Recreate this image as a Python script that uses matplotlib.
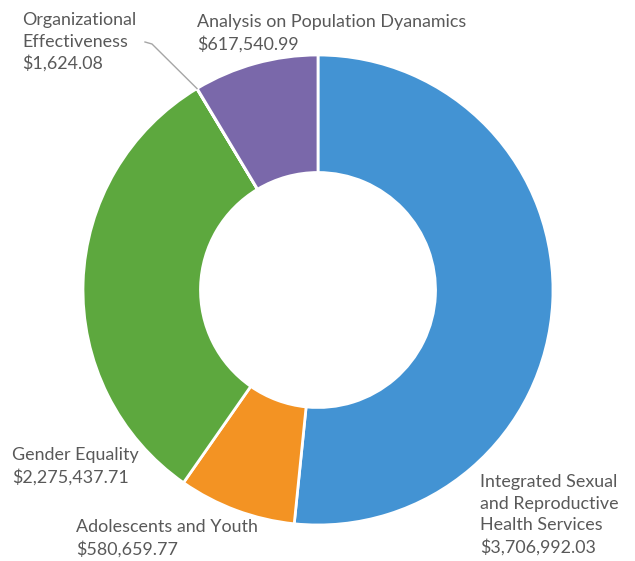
import matplotlib
matplotlib.use("Agg")
import matplotlib.pyplot as plt
import numpy as np

categories = ["Integrated Sexual\nand Reproductive\nHealth Services",
              "Adolescents and Youth",
              "Gender Equality",
              "Organizational\nEffectiveness",
              "Analysis on Population Dyanamics"]
values = [3706992.03, 580659.77, 2275437.71, 1624.08, 617540.99]
value_labels = ["$3,706,992.03", "$580,659.77", "$2,275,437.71", "$1,624.08", "$617,540.99"]
colors = ["#4393D3", "#F39323", "#5DA83E", "#A5A5A5", "#7A68AA"]

W, H = 635, 561
fig = plt.figure(figsize=(W / 100, H / 100), dpi=100)
ax = fig.add_axes([0, 0, 1, 1])

cx, cy, R = 318, H - 290, 235
wedges, _ = ax.pie(values, colors=colors, startangle=90, counterclock=False,
                   center=(cx, cy), radius=R, frame=True,
                   wedgeprops=dict(width=R * 0.5, edgecolor="white", linewidth=2))
ax.set_xlim(0, W)
ax.set_ylim(0, H)
ax.set_aspect("equal")
ax.axis("off")

font = dict(family=["Lato", "DejaVu Sans"], fontsize=12.9, color="#595959",
            ha="left", va="center")
# (x, y-center of first line) in pixels from top; line step ~21.7 px
label_pos = [(480, 482), (76, 527), (12, 455), (22, 20), (197, 22)]
step = 21.7
for name, val, (x, y) in zip(categories, value_labels, label_pos):
    lines = name.split("\n") + [val]
    for i, line in enumerate(lines):
        ax.text(x, H - (y + i * step), line, **font)

# leader line for the tiny slice
w = wedges[3]
ang = np.deg2rad((w.theta1 + w.theta2) / 2)
ex, ey = cx + R * np.cos(ang), cy + R * np.sin(ang)
ax.plot([145, 152, ex], [H - 42, H - 44, ey], color="#A6A6A6", lw=1)

fig.savefig("out.png", dpi=100)
